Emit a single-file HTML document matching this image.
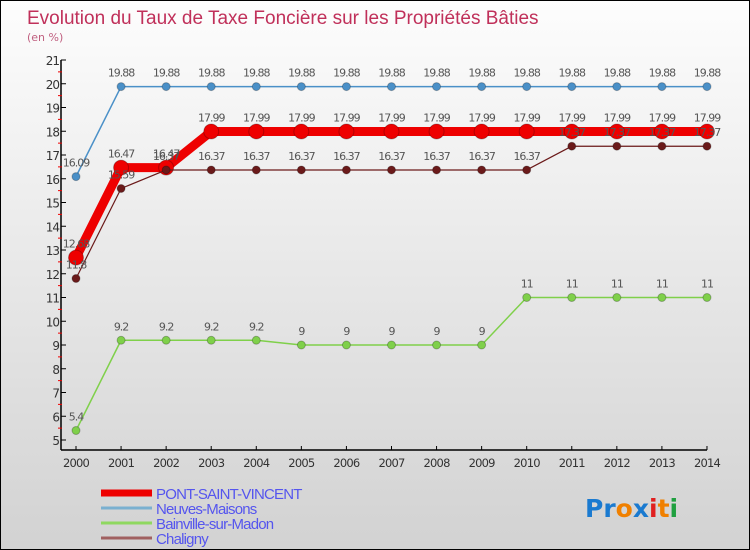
<!DOCTYPE html>
<html><head><meta charset="utf-8"><style>
body{margin:0;background:#fff}
#wrap{position:relative;width:748px;height:548px;border:1px solid #000;background:linear-gradient(#fdfdfd,#d2d2d2);overflow:hidden;font-family:"DejaVu Sans","Liberation Sans",sans-serif}
</style></head><body>
<div id="wrap">
<svg id="chart" width="748" height="548"></svg>
</div>
<script>
const years=["2000","2001","2002","2003","2004","2005","2006","2007","2008","2009","2010","2011","2012","2013","2014"];
const psv=[12.68,16.47,16.47,17.99,17.99,17.99,17.99,17.99,17.99,17.99,17.99,17.99,17.99,17.99,17.99];
const neuves=[16.09,19.88,19.88,19.88,19.88,19.88,19.88,19.88,19.88,19.88,19.88,19.88,19.88,19.88,19.88];
const bainville=[5.4,9.2,9.2,9.2,9.2,9,9,9,9,9,11,11,11,11,11];
const chaligny=[11.8,15.59,16.37,16.37,16.37,16.37,16.37,16.37,16.37,16.37,16.37,17.37,17.37,17.37,17.37];
const yTicks=[5,6,7,8,9,10,11,12,13,14,15,16,17,18,19,20,21];
const NS="http://www.w3.org/2000/svg";
const svg=document.getElementById('chart');
const x=i=>75+i*45.07;
const y=v=>439-(v-5)*23.75;
function el(t,a,p){const e=document.createElementNS(NS,t);for(const k in a)e.setAttribute(k,a[k]);(p||svg).appendChild(e);return e;}
function tx(s,a){const e=el('text',a);e.textContent=s;return e;}
let t=tx('Evolution du Taux de Taxe Foncière sur les Propriétés Bâties',{x:26,y:23,'font-size':19,fill:'#c0305a','font-family':'"Liberation Sans",sans-serif'});

t=tx('(en %)',{x:26,y:40,'font-size':11,fill:'#c06080'});

let a=el('line',{x1:60,y1:y(21),x2:60,y2:449,stroke:'#000','stroke-width':1.5});

a=el('line',{x1:60,y1:449,x2:x(14),y2:449,stroke:'#000','stroke-width':1.5});

yTicks.forEach(v=>{
 el('line',{x1:60,y1:y(v),x2:65,y2:y(v),stroke:'#000'});
 if(v<21){el('line',{x1:57,y1:y(v+0.5),x2:61,y2:y(v+0.5),stroke:'#e00'});}
 const l=tx(String(v),{x:58,y:y(v)+5,'font-size':12,fill:'#333','text-anchor':'end','letter-spacing':-1});
 
});
years.forEach((yr,i)=>{
 el('line',{x1:x(i),y1:445,x2:x(i),y2:449,stroke:'#000'});
 const l=tx(yr,{x:x(i),y:466,'font-size':11.5,fill:'#333','text-anchor':'middle','letter-spacing':-0.8});
 
});
function series(vals,name,color,w,r,lab){
 const g=el('g',{});
 
 el('polyline',{points:vals.map((v,i)=>x(i)+','+y(v)).join(' '),fill:'none',stroke:color,'stroke-width':w,'stroke-linejoin':'round'},g);
 vals.forEach((v,i)=>{
  const c=el('circle',{cx:x(i),cy:y(v),r:r,fill:color,stroke:'rgba(0,0,0,0.25)'},g);
  
  if(lab){const l=tx(String(v),{x:x(i),y:y(v)-10,'font-size':11,fill:'#555','text-anchor':'middle','letter-spacing':-1});
  g.appendChild(l);}
 });
}
series(neuves,'neuves-maisons','#4a90c8',1.5,4,true);
series(bainville,'bainville-sur-madon','#7fd04a',1.5,4,true);
series(psv,'pont-saint-vincent','#ee0000',9,7.5,true);
series(chaligny,'chaligny','#6b1a1a',1.2,4,true);
const leg=[['PONT-SAINT-VINCENT','#ee0000',7],['Neuves-Maisons','#7ab0d0',3],['Bainville-sur-Madon','#8fd860',3],['Chaligny','#a06060',3]];
leg.forEach((d,i)=>{
 const g=el('g',{});
 const yy=492+i*15;
 el('line',{x1:100,y1:yy,x2:151,y2:yy,stroke:d[1],'stroke-width':d[2]},g);
 const l=el('text',{x:155,y:yy+6,'font-size':15,fill:'#5555ee','letter-spacing':-0.8,'font-family':'"Liberation Sans",sans-serif'},g);l.textContent=d[0];
});
const p=el('text',{x:584,y:516,'font-size':25,'font-weight':'bold','font-family':'"DejaVu Sans",sans-serif'});

[['Pr','#1a7ad0'],['o','#f08000'],['x','#1a7ad0'],['i','#e02020'],['t','#f08000'],['i','#20a040']].forEach(s=>{const ts=el('tspan',{fill:s[1]},p);ts.textContent=s[0];});
</script>
</body></html>
